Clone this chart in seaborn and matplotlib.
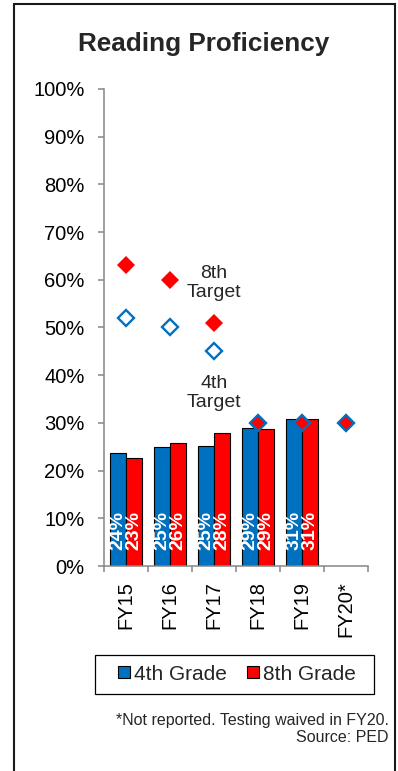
import numpy as np
import pandas as pd
import matplotlib
matplotlib.use('Agg')
import matplotlib.pyplot as plt
from matplotlib.patches import Patch, Rectangle
import seaborn as sns

# values
years = ['FY15', 'FY16', 'FY17', 'FY18', 'FY19', 'FY20*']
grade4 = [23.7, 24.9, 25.1, 28.9, 30.9]   # FY20 not reported
grade8 = [22.7, 25.7, 27.8, 28.8, 30.9]
target4 = [52, 50, 45, 30, 30, 30]
target8 = [63, 60, 51, 30, 30, 30]
series = ['4th Grade', '8th Grade']
colors = ['#0070C0', '#FF0000']

sns.set_theme(style='white')
plt.rcParams['font.family'] = ['Liberation Sans', 'DejaVu Sans']

bars = pd.DataFrame({
    'year': years[:5] * 2,
    'grade': [series[0]] * 5 + [series[1]] * 5,
    'value': grade4 + grade8,
})
targets = pd.DataFrame({'year': years, 't4': target4, 't8': target8})

fig = plt.figure(figsize=(3.98, 7.71), dpi=100)
ax = fig.add_axes([104 / 398, 1 - 566 / 771, 264 / 398, 477 / 771])

sns.barplot(data=bars, x='year', y='value', hue='grade', order=years,
            hue_order=series, palette=colors, saturation=1, width=0.72,
            edgecolor='black', linewidth=0.8, legend=False, ax=ax)

# value labels at the bottom of each bar
for cont in ax.containers:
    for p in cont:
        h = p.get_height()
        ax.text(p.get_x() + p.get_width() / 2, 3.3, f'{h:.0f}%', rotation=90,
                ha='center', va='bottom', color='white', fontsize=14,
                fontweight='bold')

# targets
sns.pointplot(data=targets, x='year', y='t8', order=years, color='#FF0000',
              markers='D', linestyle='none', markersize=9, markeredgewidth=0,
              errorbar=None, ax=ax)
sns.pointplot(data=targets, x='year', y='t4', order=years, color='#0070C0',
              markers='D', linestyle='none', markersize=7.8,
              markeredgewidth=1.7, markerfacecolor='none', errorbar=None, ax=ax)

ax.text(2, 59.3, '8th\nTarget', ha='center', va='center', fontsize=14,
        linespacing=1.2)
ax.text(2, 36.3, '4th\nTarget', ha='center', va='center', fontsize=14,
        linespacing=1.2)

# axes
ax.set_xlim(-0.5, 5.5)
ax.set_ylim(0, 100)
ax.set_yticks(range(0, 101, 10))
ax.set_yticklabels([f'{v}%' for v in range(0, 101, 10)])
ax.set_xticks(range(len(years)))
ax.set_xticklabels(years, rotation=90)
ax.set_xticks(np.arange(-0.5, len(years), 1), minor=True)
ax.set_xlabel('')
ax.set_ylabel('')
sns.despine(ax=ax)
for s in ['left', 'bottom']:
    ax.spines[s].set_color('#868686')
    ax.spines[s].set_linewidth(1.1)
ax.tick_params(axis='y', left=True, length=4, width=1.1, color='#868686',
               pad=10, labelsize=14.5, labelcolor='black')
ax.tick_params(axis='x', which='major', bottom=False, length=0, pad=11,
               labelsize=14.5, labelcolor='black')
ax.tick_params(axis='x', which='minor', bottom=True, length=4, width=1.1,
               color='#868686')

fig.text(204 / 398, 1 - 44 / 771, 'Reading Proficiency', ha='center',
         va='center', fontsize=18.8, fontweight='bold')

# legend with a plain box
handles = [Patch(facecolor=c, edgecolor='black', linewidth=0.8) for c in colors]
fig.legend(handles, series, loc='center', bbox_to_anchor=(237 / 398, 1 - 674 / 771),
           ncol=2, frameon=False, fontsize=15, handlelength=0.55,
           handleheight=0.55, handletextpad=0.2, columnspacing=1.0)
fig.patches.append(Rectangle((95 / 398, 1 - 694 / 771), 279 / 398, 39 / 771,
                             transform=fig.transFigure, fill=False,
                             edgecolor='black', linewidth=0.9))

fig.text(389 / 398, 1 - 720 / 771, '*Not reported. Testing waived in FY20.',
         ha='right', va='center', fontsize=11.5)
fig.text(389 / 398, 1 - 737 / 771, 'Source: PED', ha='right', va='center',
         fontsize=11.5)

# outer frame
fig.patches.append(Rectangle((14 / 398, -0.02), 381 / 398, 0.02 + 1 - 4 / 771,
                             transform=fig.transFigure, fill=False,
                             edgecolor='#1a1a1a', linewidth=1.5))

fig.savefig('out.png', dpi=100)
